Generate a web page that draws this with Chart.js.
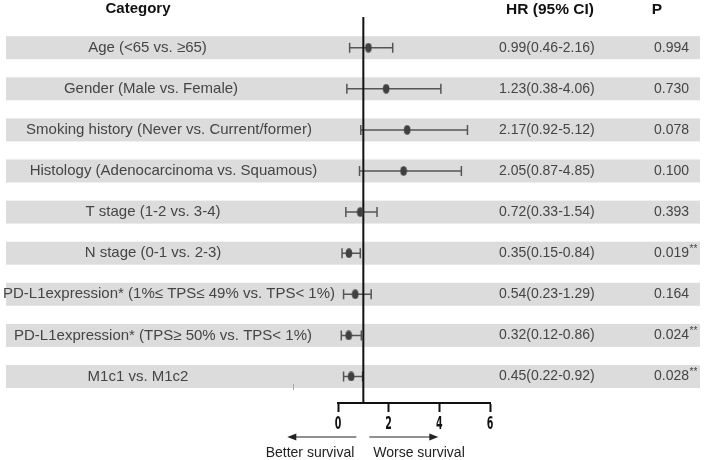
<!DOCTYPE html>
<html>
<head>
<meta charset="utf-8">
<script src="https://cdn.jsdelivr.net/npm/chart.js@4"></script>
<style>
  html, body { margin: 0; padding: 0; background: #ffffff; }
  #wrap { width: 709px; height: 460px; }
</style>
</head>
<body>
<div id="wrap"><canvas id="c" width="709" height="460"></canvas></div>
<script>
// ---- data ----
const categories = [
  "Age (<65 vs. \u226565)",
  "Gender (Male vs. Female)",
  "Smoking history (Never vs. Current/former)",
  "Histology (Adenocarcinoma vs. Squamous)",
  "T stage (1-2 vs. 3-4)",
  "N stage (0-1 vs. 2-3)",
  "PD-L1expression* (1%\u2264 TPS\u2264 49% vs. TPS< 1%)",
  "PD-L1expression* (TPS\u2265 50% vs. TPS< 1%)",
  "M1c1 vs. M1c2"
];
const hrPlotted = [1.20, 1.90, 2.73, 2.59, 0.88, 0.43, 0.68, 0.42, 0.52];
const ciLower   = [0.46, 0.35, 0.90, 0.85, 0.31, 0.16, 0.22, 0.13, 0.22];
const ciUpper   = [2.16, 4.06, 5.11, 4.87, 1.54, 0.88, 1.31, 0.92, 0.97];
const hrLabels  = ["0.99(0.46-2.16)", "1.23(0.38-4.06)", "2.17(0.92-5.12)", "2.05(0.87-4.85)",
                   "0.72(0.33-1.54)", "0.35(0.15-0.84)", "0.54(0.23-1.29)", "0.32(0.12-0.86)", "0.45(0.22-0.92)"];
const pValues   = ["0.994", "0.730", "0.078", "0.100", "0.393", "0.019", "0.164", "0.024", "0.028"];
const pMarks    = ["", "", "", "", "", "**", "", "**", "**"];
const xTicks    = [0, 2, 4, 6];
const refValue  = 1;
const headers   = { category: "Category", hr: "HR (95% CI)", p: "P" };
const arrowTexts = { left: "Better survival", right: "Worse survival" };

// ---- layout (not data) ----
const labelCenters = [147.5, 151, 169, 173.5, 153, 153, 169, 163, 138];
const hrColX = 499;
const pColX = 654;

const labelFont = '15px "Liberation Sans", Arial, sans-serif';
const numFont = '14px "Liberation Sans", Arial, sans-serif';
const textColor = '#454545';

// ellipse marker
const marker = document.createElement('canvas');
marker.width = 8; marker.height = 10;
(function(){
  const m = marker.getContext('2d');
  m.fillStyle = '#404040';
  m.beginPath();
  m.ellipse(4, 5, 3.3, 4.7, 0, 0, Math.PI * 2);
  m.fill();
})();

const forestPlugin = {
  id: 'forest',
  beforeDraw(chart) {
    const ctx = chart.ctx;
    const ys = chart.scales.y;
    ctx.save();
    ctx.fillStyle = '#ffffff';
    ctx.fillRect(0, 0, chart.width, chart.height);
    ctx.fillStyle = '#dcdcdc';
    categories.forEach((c, i) => {
      const y = ys.getPixelForValue(i);
      ctx.fillRect(6, y - 11.5, 694, 23);
    });
    ctx.restore();
  },
  beforeDatasetsDraw(chart) {
    const ctx = chart.ctx;
    const xs = chart.scales.x, ys = chart.scales.y;
    const area = chart.chartArea;
    ctx.save();
    ctx.strokeStyle = '#555555';
    ctx.lineWidth = 1.5;
    categories.forEach((c, i) => {
      const y = ys.getPixelForValue(i);
      const x1 = xs.getPixelForValue(ciLower[i]);
      const x2 = xs.getPixelForValue(ciUpper[i]);
      ctx.beginPath();
      ctx.moveTo(x1, y); ctx.lineTo(x2, y);
      ctx.moveTo(x1, y - 5); ctx.lineTo(x1, y + 5);
      ctx.moveTo(x2, y - 5); ctx.lineTo(x2, y + 5);
      ctx.stroke();
    });
    // reference line
    const rx = xs.getPixelForValue(refValue);
    ctx.strokeStyle = '#111111';
    ctx.lineWidth = 2;
    ctx.beginPath();
    ctx.moveTo(rx, area.top);
    ctx.lineTo(rx, area.bottom);
    ctx.stroke();
    ctx.restore();
  },
  afterDraw(chart) {
    const ctx = chart.ctx;
    const xs = chart.scales.x, ys = chart.scales.y;
    ctx.save();
    // x tick labels (tall condensed digits)
    ctx.fillStyle = '#111111';
    ctx.textAlign = 'center';
    ctx.textBaseline = 'middle';
    ctx.font = 'bold 17px "DejaVu Sans Condensed", "Liberation Sans Narrow", sans-serif';
    xs.ticks.forEach(t => {
      const px = xs.getPixelForValue(t.value);
      ctx.save();
      ctx.translate(px, 425);
      ctx.scale(0.62, 1);
      ctx.fillText(String(t.value), 0, 0);
      ctx.restore();
    });

    // headers
    ctx.fillStyle = '#111111';
    ctx.textBaseline = 'middle';
    ctx.textAlign = 'center';
    ctx.font = 'bold 15px "Liberation Sans", Arial, sans-serif';
    ctx.fillText(headers.category, 138, 9);
    ctx.font = 'bold 15.5px "Liberation Sans", Arial, sans-serif';
    ctx.fillText(headers.hr, 550, 10);
    ctx.fillText(headers.p, 657, 10);

    // rows
    categories.forEach((c, i) => {
      const y = ys.getPixelForValue(i);
      ctx.fillStyle = textColor;
      ctx.font = labelFont;
      ctx.textAlign = 'center';
      ctx.fillText(c, labelCenters[i], y);
      ctx.font = numFont;
      ctx.textAlign = 'left';
      ctx.fillText(hrLabels[i], hrColX, y);
      ctx.fillText(pValues[i], pColX, y);
      if (pMarks[i]) {
        const w = ctx.measureText(pValues[i]).width;
        ctx.font = '10px "Liberation Sans", Arial, sans-serif';
        ctx.fillText(pMarks[i], pColX + w + 0.5, y - 4);
      }
    });

    // stray tick mark
    ctx.strokeStyle = '#aaaaaa';
    ctx.lineWidth = 1;
    ctx.beginPath();
    ctx.moveTo(293.5, 384); ctx.lineTo(293.5, 390);
    ctx.stroke();

    // arrows
    const rx = xs.getPixelForValue(refValue);
    const ay = 437;
    ctx.strokeStyle = '#222222';
    ctx.fillStyle = '#222222';
    ctx.lineWidth = 1.2;
    ctx.beginPath();
    ctx.moveTo(rx - 7, ay); ctx.lineTo(rx - 70, ay);
    ctx.moveTo(rx + 6, ay); ctx.lineTo(rx + 68, ay);
    ctx.stroke();
    ctx.beginPath();
    ctx.moveTo(rx - 76, ay); ctx.lineTo(rx - 67, ay - 3.5); ctx.lineTo(rx - 67, ay + 3.5); ctx.closePath();
    ctx.fill();
    ctx.beginPath();
    ctx.moveTo(rx + 75, ay); ctx.lineTo(rx + 66, ay - 3.5); ctx.lineTo(rx + 66, ay + 3.5); ctx.closePath();
    ctx.fill();
    ctx.font = '14px "Liberation Sans", Arial, sans-serif';
    ctx.textAlign = 'center';
    ctx.fillStyle = '#222222';
    ctx.fillText(arrowTexts.left, 310, 453);
    ctx.fillText(arrowTexts.right, 419, 453);
    ctx.restore();
  }
};

new Chart(document.getElementById('c'), {
  type: 'scatter',
  data: {
    datasets: [{
      data: hrPlotted.map((v, i) => ({ x: v, y: i })),
      pointStyle: marker,
      pointRadius: 5,
      pointHoverRadius: 5
    }]
  },
  options: {
    responsive: false,
    animation: false,
    devicePixelRatio: 1,
    layout: { padding: { left: 338, right: 219, top: 17, bottom: 27 } },
    plugins: { legend: { display: false }, tooltip: { enabled: false } },
    scales: {
      x: {
        type: 'linear',
        min: 0, max: 6,
        afterFit(s) { s.height = 30; },
        afterBuildTicks(s) { s.ticks = xTicks.map(v => ({ value: v })); },
        border: { display: true, color: '#111111', width: 2 },
        grid: { drawOnChartArea: false, drawTicks: true, tickLength: 9, tickColor: '#111111', tickWidth: 2 },
        ticks: { display: false }
      },
      y: {
        type: 'linear',
        display: false,
        reverse: true,
        min: -0.747,
        max: 8.645
      }
    }
  },
  plugins: [forestPlugin]
});
</script>
</body>
</html>
